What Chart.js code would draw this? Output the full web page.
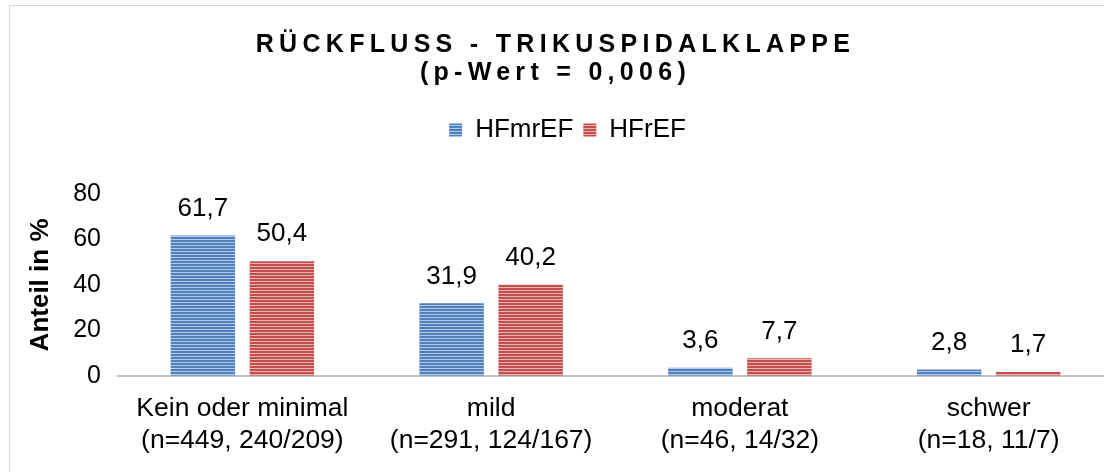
<!DOCTYPE html>
<html>
<head>
<meta charset="utf-8">
<script src="https://cdn.jsdelivr.net/npm/chart.js@4/dist/chart.umd.min.js"></script>
<style>
  html, body { margin: 0; padding: 0; background: #fff; overflow: hidden; }
  #wrap { position: absolute; left: 9px; top: 5px; width: 1120px; height: 470px;
          border-left: 1px solid #d6d6d6; border-top: 1px solid #d6d6d6; }
  canvas { display: block; }
</style>
</head>
<body>
<div id="wrap"><canvas id="c" width="1120" height="470"></canvas></div>
<script>
// ---- data ----
const titleLines = ['RÜCKFLUSS - TRIKUSPIDALKLAPPE', '(p-Wert = 0,006)'];
const categories = [
  ['Kein oder minimal', '(n=449, 240/209)'],
  ['mild', '(n=291, 124/167)'],
  ['moderat', '(n=46, 14/32)'],
  ['schwer', '(n=18, 11/7)']
];
const seriesNames = ['HFmrEF', 'HFrEF'];
const hfmrefValues = [61.7, 31.9, 3.6, 2.8];
const hfrefValues = [50.4, 40.2, 7.7, 1.7];
const yTicks = [0, 20, 40, 60, 80];
const yAxisTitle = 'Anteil in %';

// ---- styling helpers ----
const FONT = '"Liberation Sans", Arial, sans-serif';
function stripePattern(dark, light) {
  const c = document.createElement('canvas');
  c.width = 4; c.height = 3;
  const x = c.getContext('2d');
  x.fillStyle = dark; x.fillRect(0, 0, 4, 2);
  x.fillStyle = light; x.fillRect(0, 2, 4, 1);
  return document.getElementById('c').getContext('2d').createPattern(c, 'repeat');
}
const bluePat = stripePattern('#4f81bd', '#b3c8e6');
const redPat = stripePattern('#c0504d', '#eab3b2');

const LEGEND_GAP = 41;
const legendGapPlugin = {
  id: 'legendGap',
  beforeInit(chart) {
    const box = {
      position: 'top', weight: 500, fullSize: true,
      options: { stackWeight: 1 },
      top: 0, left: 0, right: 0, bottom: 0, width: 0, height: 0,
      isHorizontal() { return true; },
      update(maxWidth) { this.width = maxWidth; this.height = LEGEND_GAP; },
      draw() {},
      _layers() { return []; }
    };
    Chart.layouts.addBox(chart, box);
  }
};

const titleSpacingPlugin = {
  id: 'titleSpacing',
  beforeDraw(chart) {
    const tb = chart.titleBlock;
    if (tb && !tb._spaced) {
      const orig = tb.draw.bind(tb);
      tb.draw = function () {
        const c = this.ctx;
        c.save();
        c.letterSpacing = '5.3px';
        c.translate(-12, 0);
        orig();
        c.restore();
      };
      tb._spaced = true;
    }
  }
};

const valueLabelPlugin = {
  id: 'valueLabels',
  afterDatasetsDraw(chart) {
    const ctx = chart.ctx;
    ctx.save();
    ctx.font = '26px ' + FONT;
    ctx.fillStyle = '#000';
    ctx.textAlign = 'center';
    ctx.textBaseline = 'middle';
    chart.data.datasets.forEach((ds, i) => {
      chart.getDatasetMeta(i).data.forEach((bar, j) => {
        ctx.fillText(ds.data[j].toFixed(1).replace('.', ','), bar.x, bar.y - 27);
      });
    });
    ctx.restore();
  }
};

new Chart(document.getElementById('c'), {
  type: 'bar',
  data: {
    labels: categories,
    datasets: [
      { label: seriesNames[0], data: hfmrefValues, backgroundColor: bluePat, borderWidth: 0,
        categoryPercentage: 0.635, barPercentage: 0.816 },
      { label: seriesNames[1], data: hfrefValues, backgroundColor: redPat, borderWidth: 0,
        categoryPercentage: 0.635, barPercentage: 0.816 }
    ]
  },
  options: {
    responsive: false,
    animation: false,
    layout: { padding: { top: 0, left: 12, right: 17, bottom: 2 } },
    plugins: {
      title: {
        display: true, text: titleLines, color: '#000',
        font: { family: FONT, size: 25, weight: 'bold', lineHeight: 1.12 },
        padding: { top: 25, bottom: 20 }
      },
      legend: {
        display: true, position: 'top',
        labels: { color: '#000', font: { family: FONT, size: 26 }, boxWidth: 13, boxHeight: 13, padding: 10 }
      },
      tooltip: { enabled: false }
    },
    scales: {
      x: {
        grid: { display: false, drawTicks: false },
        border: { display: true, color: '#c4c4c4', width: 2 },
        ticks: { color: '#000', font: { family: FONT, size: 26.5, lineHeight: 1.21 }, padding: 17,
                 maxRotation: 0, autoSkip: false }
      },
      y: {
        min: yTicks[0], max: yTicks[yTicks.length - 1],
        grid: { display: false, drawTicks: false },
        border: { display: false },
        afterBuildTicks(scale) { scale.ticks = yTicks.map(v => ({ value: v })); },
        ticks: { color: '#000', font: { family: FONT, size: 25 }, padding: 17 },
        title: { display: true, text: yAxisTitle, color: '#000',
                 font: { family: FONT, size: 26, weight: 'bold', lineHeight: 1.2 },
                 padding: { top: 3, bottom: 0 } }
      }
    }
  },
  plugins: [legendGapPlugin, titleSpacingPlugin, valueLabelPlugin]
});
</script>
</body>
</html>
